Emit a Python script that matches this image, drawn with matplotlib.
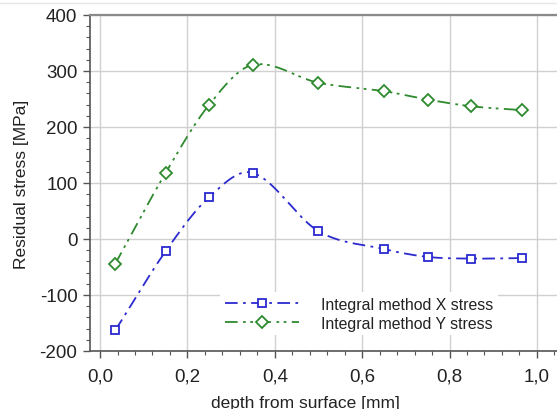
import numpy as np
import matplotlib
matplotlib.use('Agg')
import matplotlib.pyplot as plt
from matplotlib.ticker import MultipleLocator, FuncFormatter
from matplotlib.lines import Line2D

# Measured residual stress profile
depth = [0.035, 0.15, 0.25, 0.35, 0.5, 0.65, 0.75, 0.85, 0.967]
stress_x = [-163, -22, 75, 118, 14, -18, -32, -35, -34]
stress_y = [-44, 118, 240, 311, 279, 264, 249, 237, 230]


def smooth(x, y, n=40):
    # cubic Hermite curve through the points (Catmull-Rom style tangents)
    x = np.asarray(x, float)
    y = np.asarray(y, float)
    m = np.zeros_like(y)
    m[1:-1] = (y[2:] - y[:-2]) / (x[2:] - x[:-2])
    m[0] = (y[1] - y[0]) / (x[1] - x[0])
    m[-1] = (y[-1] - y[-2]) / (x[-1] - x[-2])
    xs, ys = [], []
    for i in range(len(x) - 1):
        h = x[i + 1] - x[i]
        t = np.linspace(0, 1, n, endpoint=False)
        h00 = 2 * t**3 - 3 * t**2 + 1
        h10 = t**3 - 2 * t**2 + t
        h01 = -2 * t**3 + 3 * t**2
        h11 = t**3 - t**2
        xs.append(x[i] + t * h)
        ys.append(h00 * y[i] + h10 * h * m[i] + h01 * y[i + 1] + h11 * h * m[i + 1])
    xs.append([x[-1]])
    ys.append([y[-1]])
    return np.concatenate(xs), np.concatenate(ys)


plt.rcParams['font.family'] = ['Liberation Sans', 'DejaVu Sans']
plt.rcParams['axes.unicode_minus'] = False

fig = plt.figure(figsize=(5.57, 4.10), dpi=100)
ax = fig.add_axes([90 / 557, 58 / 410, 467 / 557, 336 / 410])

blue = '#2a2ad0'
green = '#2e8a2e'
ls_x = (0, (7, 3, 1.5, 3))
ls_y = (0, (7, 3, 1.5, 2.5, 1.5, 3))

sx, sy = smooth(depth, stress_x)
ax.plot(sx, sy, color=blue, linestyle=ls_x, lw=1.3)
ax.plot(depth, stress_x, linestyle='none', marker='s', ms=6, mfc='white',
        mec=blue, mew=1.3)

gx, gy = smooth(depth, stress_y)
ax.plot(gx, gy, color=green, linestyle=ls_y, lw=1.3)
ax.plot(depth, stress_y, linestyle='none', marker='D', ms=6, mfc='white',
        mec=green, mew=1.3)

ax.set_xlim(-0.023, 1.046)
ax.set_ylim(-200, 400)
ax.xaxis.set_major_locator(MultipleLocator(0.2))
ax.xaxis.set_minor_locator(MultipleLocator(0.04))
ax.yaxis.set_major_locator(MultipleLocator(100))
ax.yaxis.set_minor_locator(MultipleLocator(20))
ax.xaxis.set_major_formatter(FuncFormatter(lambda v, p: f'{v:.1f}'.replace('.', ',')))
ax.grid(True, which='major', color='#d0d0d0', lw=1.0)
ax.set_axisbelow(True)

ax.tick_params(which='major', length=5, width=1, color='#555555',
               labelsize=13.5, labelcolor='#222222')
ax.tick_params(axis='y', which='major', pad=4)
ax.tick_params(axis='x', which='major', pad=7)
ax.tick_params(which='minor', length=3, width=0.8, color='#555555')
ax.spines['right'].set_visible(False)
ax.spines['top'].set_color('#8a8a8a')
ax.spines['top'].set_linewidth(1.6)
for s in ('left', 'bottom'):
    ax.spines[s].set_color('#555555')
    ax.spines[s].set_linewidth(1.2)

ax.set_ylabel('Residual stress [MPa]', fontsize=12.5, color='#222222', labelpad=8)
fig.text(305 / 557, 1 - 396 / 410, 'depth from surface [mm]', fontsize=12.5,
         color='#222222', ha='center', va='top')

handles = [
    Line2D([], [], color=blue, linestyle=ls_x, lw=1.3, marker='s', ms=6,
           mfc='white', mec=blue, mew=1.3),
    Line2D([], [], color=green, linestyle=ls_y, lw=1.3, marker='D', ms=6,
           mfc='white', mec=green, mew=1.3),
]
leg = ax.legend(handles, ['Integral method X stress', 'Integral method Y stress'],
                loc='upper left', bbox_to_anchor=(212 / 557, 1 - 285 / 410),
                bbox_transform=fig.transFigure, fontsize=11.4, handlelength=4.7,
                handletextpad=1.4, labelspacing=0.25, borderpad=0.3,
                frameon=True, fancybox=False, framealpha=1)
leg.get_frame().set_edgecolor('none')
for t in leg.get_texts():
    t.set_color('#222222')

fig.add_artist(Line2D([0, 1], [1 - 4 / 410, 1 - 4 / 410], color='#e6e6e6', lw=1))

fig.savefig('out.png', dpi=100)
